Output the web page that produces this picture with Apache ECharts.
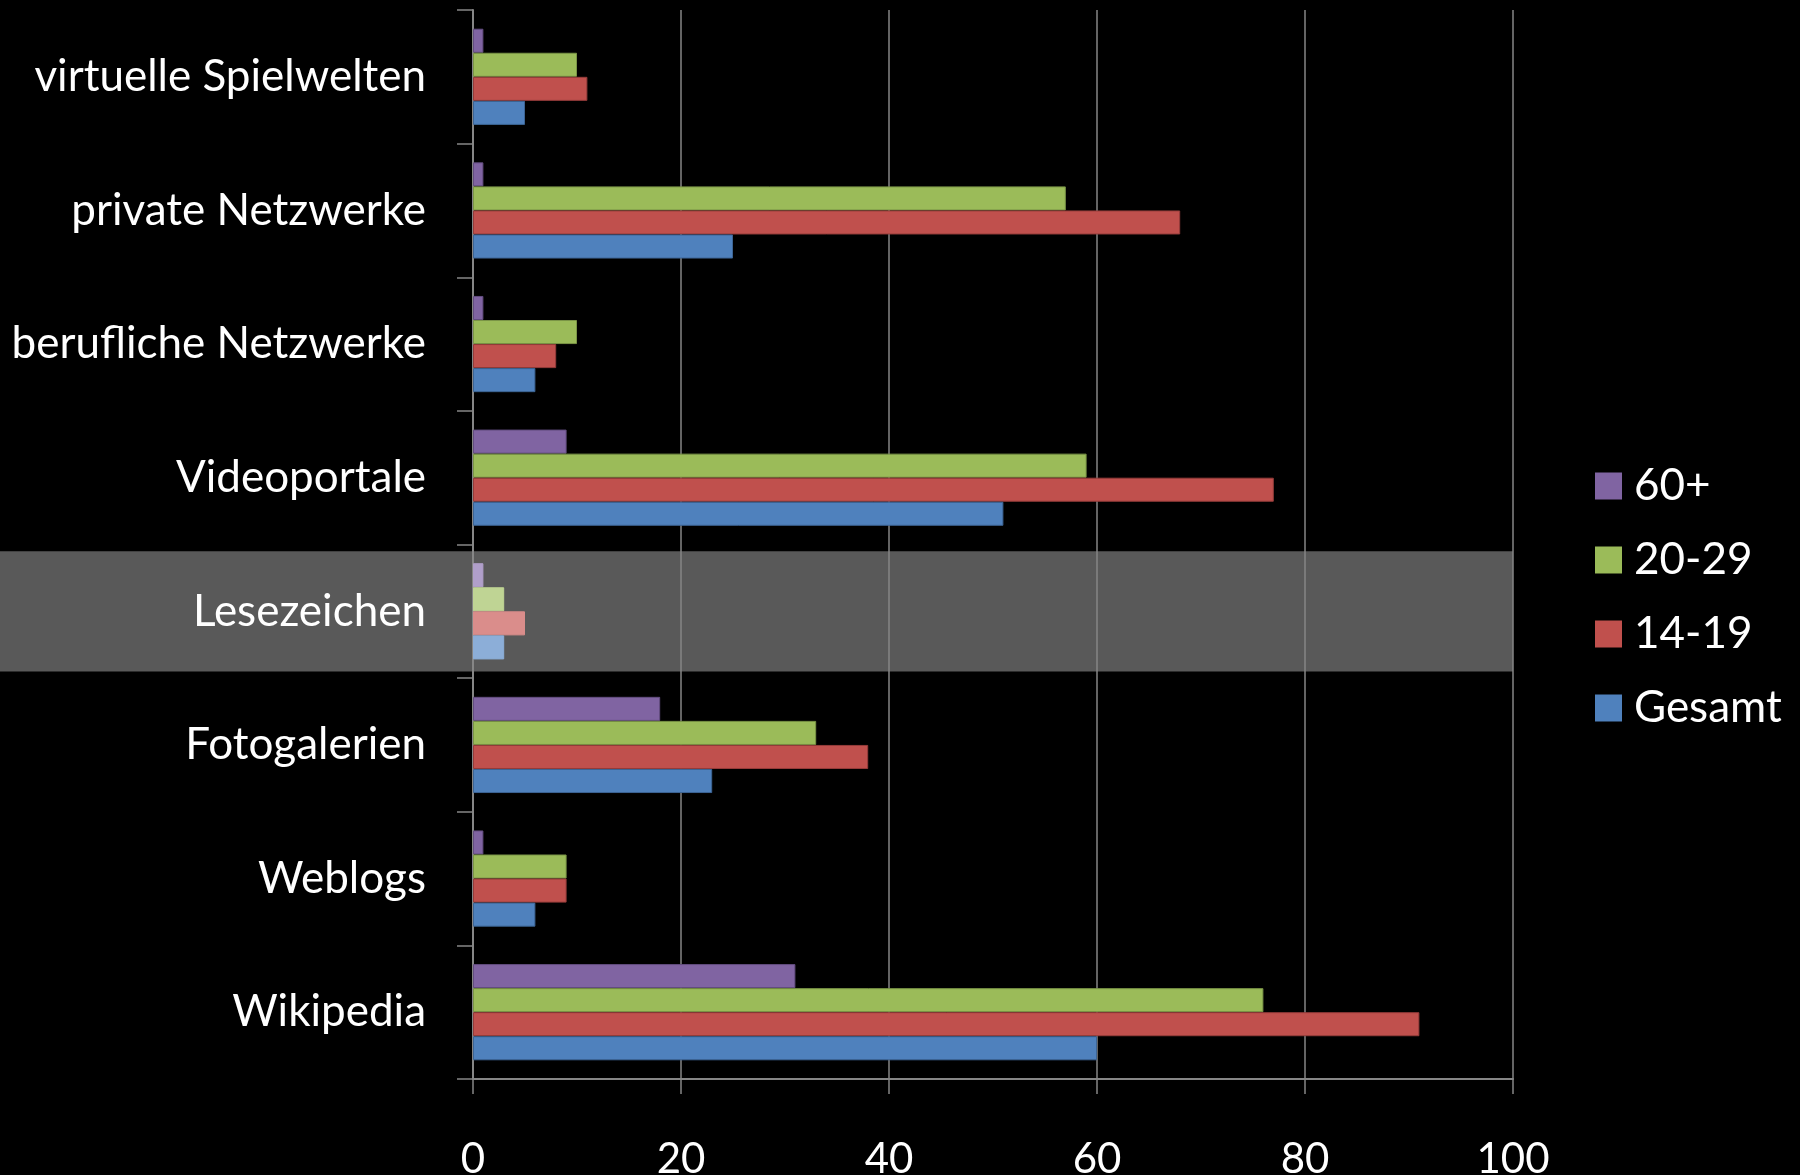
<!DOCTYPE html>
<html>
<head>
<meta charset="utf-8">
<script src="https://cdn.jsdelivr.net/npm/echarts@6/dist/echarts.min.js"></script>
<style>
html,body{margin:0;padding:0;background:#000;}
#chart{width:1800px;height:1175px;}
</style>
</head>
<body>
<div id="chart"></div>
<script>
// Data
var categories = ['Wikipedia','Weblogs','Fotogalerien','Lesezeichen','Videoportale','berufliche Netzwerke','private Netzwerke','virtuelle Spielwelten'];
var seriesNames = ['60+','20-29','14-19','Gesamt'];
var age60   = [31, 1, 18, 1, 9, 1, 1, 1];
var age2029 = [76, 9, 33, 3, 59, 10, 57, 10];
var age1419 = [91, 9, 38, 5, 77, 8, 68, 11];
var gesamt  = [60, 6, 23, 3, 51, 6, 25, 5];
var xTicks = [0, 20, 40, 60, 80, 100];
var highlightCategory = 'Lesezeichen';

var colors      = ['#8064a2', '#9bbb59', '#c0504d', '#4f81bd'];
var borderCols  = ['#634d80', '#7a9446', '#953c3a', '#3c6494'];
var lightColors = ['#b09fca', '#bfd494', '#da8d8b', '#8caed8'];
var values = [age60, age2029, age1419, gesamt];

var FONT = 'Lato';
var chart = echarts.init(document.getElementById('chart'), null, {renderer: 'canvas'});

var series = seriesNames.map(function (name, i) {
  return {
    name: name,
    type: 'bar',
    barGap: '0%',
    barCategoryGap: '28%',
    itemStyle: {color: colors[i], borderColor: borderCols[i], borderWidth: 1},
    data: values[i].map(function (v, j) {
      if (categories[j] === highlightCategory) {
        return {value: v, itemStyle: {color: lightColors[i], borderColor: lightColors[i]}};
      }
      return v;
    })
  };
});

chart.setOption({
  backgroundColor: '#000000',
  animation: false,
  textStyle: {fontFamily: FONT},
  grid: {left: 473, right: 287, top: 10, bottom: 96, containLabel: false, outerBoundsMode: 'none'},
  legend: {
    orient: 'vertical',
    left: 1590,
    top: 459,
    data: ['60+', '20-29', '14-19', 'Gesamt'],
    itemWidth: 27,
    itemHeight: 27,
    itemGap: 30,
    icon: 'rect',
    itemStyle: {borderWidth: 0},
    textStyle: {color: '#ffffff', fontSize: 44, fontFamily: FONT, lineHeight: 40, padding: [0, 0, 0, 7]}
  },
  xAxis: {
    type: 'value',
    min: 0, max: 100, interval: 20,
    axisLine: {show: true, lineStyle: {color: '#868686', width: 2}},
    axisTick: {show: true, length: 15, lineStyle: {color: '#868686', width: 1.5}},
    splitLine: {show: true, lineStyle: {color: '#868686', width: 1.5}},
    axisLabel: {
      color: '#ffffff', fontSize: 42, fontFamily: FONT, margin: 56, lineHeight: 48,
      formatter: function (v) { return xTicks.indexOf(v) >= 0 ? String(v) : ''; }
    }
  },
  yAxis: {
    type: 'category',
    data: categories,
    axisLine: {show: true, lineStyle: {color: '#868686', width: 2}},
    axisTick: {show: true, length: 16, alignWithLabel: false, lineStyle: {color: '#868686', width: 1.5}},
    axisLabel: {color: '#ffffff', fontSize: 44, fontFamily: FONT, margin: 47, padding: [9, 0, 0, 0]}
  },
  series: series
});

// highlight band behind the Lesezeichen category, positioned through the axes
var idx = categories.indexOf(highlightCategory);
var yc = chart.convertToPixel({yAxisIndex: 0}, categories[idx]);
var yn = chart.convertToPixel({yAxisIndex: 0}, categories[idx + 1]);
var band = Math.abs(yc - yn);
var xRight = chart.convertToPixel({xAxisIndex: 0}, 100);
var h = band * 0.9;
chart.setOption({
  graphic: [{
    type: 'rect',
    z: -10,
    silent: true,
    shape: {x: 0, y: yc - h / 2, width: xRight, height: h},
    style: {fill: '#595959'}
  }]
});
</script>
</body>
</html>
